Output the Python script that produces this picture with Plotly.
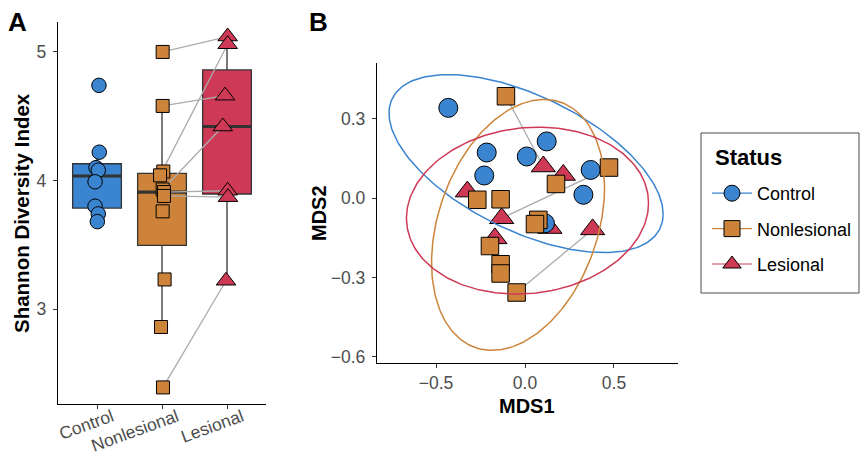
import numpy as np
import plotly.graph_objects as go

# ---------------- data ----------------
groups = ["Control", "Nonlesional", "Lesional"]
group_colors = ["#3A84D0", "#CD843A", "#CE3A55"]
group_symbols = ["circle", "square", "triangle-up"]

# Panel A: Shannon diversity index
shannon_control = [4.74, 4.22, 4.10, 4.08, 3.99, 3.80, 3.74, 3.68]
shannon_nonlesional = [5.00, 4.58, 4.07, 4.04, 3.93, 3.91, 3.88, 3.76, 3.23, 2.86, 2.39]
shannon_lesional = [5.12, 5.06, 4.66, 4.42, 3.92, 3.87, 3.22]
jitter_control = [0.03, 0.035, -0.015, 0.02, -0.03, -0.03, 0.02, 0.005]
jitter_nonlesional = [0.01, 0.01, 0.02, -0.03, 0.01, 0.03, 0.03, 0.01, 0.04, -0.015, 0.015]
jitter_lesional = [0.01, 0.01, -0.03, -0.065, 0.01, 0.015, -0.015]
# paired samples (index into nonlesional, index into lesional)
pairs_a_nl = [0, 1, 3, 4, 5, 6, 10]
pairs_a_les = [0, 2, 1, 3, 4, 5, 6]

# Panel B: MDS ordination
mds1_control = [-0.431, -0.215, -0.229, 0.010, 0.122, 0.369, 0.328, 0.112]
mds2_control = [0.342, 0.173, 0.086, 0.158, 0.215, 0.107, 0.013, -0.095]
mds1_nonlesional = [-0.107, 0.472, 0.174, -0.268, -0.137, 0.075, 0.056, -0.197, -0.137, -0.137, -0.047]
mds2_nonlesional = [0.386, 0.116, 0.054, -0.006, -0.004, -0.082, -0.098, -0.181, -0.250, -0.285, -0.357]
mds1_lesional = [0.103, 0.215, -0.324, -0.131, -0.169, 0.140, 0.380]
mds2_lesional = [0.120, 0.088, 0.025, -0.076, -0.152, -0.113, -0.118]
pairs_b_nl = [0, 1, 10]
pairs_b_les = [0, 3, 6]

# 95% ellipse parameters per group: centre x, centre y, half-extent x, half-extent y, correlation
ellipse_control = [0.006, 0.131, 0.770, 0.337, -0.567]
ellipse_nonlesional = [-0.039, -0.101, 0.486, 0.475, 0.30]
ellipse_lesional = [0.014, -0.047, 0.680, 0.316, 0.09]

# ---------------- figure ----------------
FONT = "Liberation Sans, Arial, Helvetica, sans-serif"
fig = go.Figure()

shannon = [shannon_control, shannon_nonlesional, shannon_lesional]
jitters = [jitter_control, jitter_nonlesional, jitter_lesional]
sizes_a = [14.5, 13, 17]

# boxes
for i, (vals, col) in enumerate(zip(shannon, group_colors)):
    v = np.array(vals)
    q1, med, q3 = np.percentile(v, [25, 50, 75])
    iqr = q3 - q1
    lf = v[v >= q1 - 1.5 * iqr].min()
    uf = v[v <= q3 + 1.5 * iqr].max()
    pos = i + 1
    fig.add_trace(go.Box(x=[pos], q1=[q1], median=[med], q3=[q3], lowerfence=[lf], upperfence=[uf],
                         width=0.75, whiskerwidth=0, fillcolor=col, line=dict(color="#333333", width=1.3),
                         boxpoints=False, showlegend=False, hoverinfo="skip",
                         xaxis="x", yaxis="y"))
    fig.add_trace(go.Scatter(x=[pos - 0.375, pos + 0.375], y=[med, med], mode="lines",
                             line=dict(color="#333333", width=3.2), showlegend=False,
                             hoverinfo="skip", xaxis="x", yaxis="y"))

# pair lines panel A
lx, ly = [], []
for a, b in zip(pairs_a_nl, pairs_a_les):
    lx += [2 + jitter_nonlesional[a], 3 + jitter_lesional[b], None]
    ly += [shannon_nonlesional[a], shannon_lesional[b], None]
fig.add_trace(go.Scatter(x=lx, y=ly, mode="lines", line=dict(color="#ABABAB", width=1.3),
                         showlegend=False, hoverinfo="skip", xaxis="x", yaxis="y"))

# points panel A
for i in range(3):
    fig.add_trace(go.Scatter(x=[i + 1 + j for j in jitters[i]], y=shannon[i], mode="markers",
                             marker=dict(symbol=group_symbols[i], size=sizes_a[i], color=group_colors[i],
                                         line=dict(color="black", width=1)),
                             showlegend=False, xaxis="x", yaxis="y"))

# pair lines panel B
bx, by = [], []
for a, b in zip(pairs_b_nl, pairs_b_les):
    bx += [mds1_nonlesional[a], mds1_lesional[b], None]
    by += [mds2_nonlesional[a], mds2_lesional[b], None]
fig.add_trace(go.Scatter(x=bx, y=by, mode="lines", line=dict(color="#ABABAB", width=1.3),
                         showlegend=False, hoverinfo="skip", xaxis="x2", yaxis="y2"))

mds1 = [mds1_control, mds1_nonlesional, mds1_lesional]
mds2 = [mds2_control, mds2_nonlesional, mds2_lesional]
sizes_b = [19, 17.5, 21]
for i in [2, 0, 1]:
    fig.add_trace(go.Scatter(x=mds1[i], y=mds2[i], mode="markers",
                             marker=dict(symbol=group_symbols[i], size=sizes_b[i], color=group_colors[i],
                                         line=dict(color="black", width=1)),
                             showlegend=False, xaxis="x2", yaxis="y2"))

# ellipses
t = np.linspace(0, 2 * np.pi, 240)
for par, col in zip([ellipse_control, ellipse_nonlesional, ellipse_lesional], group_colors):
    cx, cy, sx, sy, rho = par
    ex = cx + sx * np.cos(t)
    ey = cy + sy * (rho * np.cos(t) + np.sqrt(1 - rho ** 2) * np.sin(t))
    fig.add_trace(go.Scatter(x=ex, y=ey, mode="lines", line=dict(color=col, width=1.5),
                             showlegend=False, hoverinfo="skip", xaxis="x2", yaxis="y2"))

# legend entries
for i, g in enumerate(groups):
    fig.add_trace(go.Scatter(x=[None], y=[None], mode="lines+markers", name=g, legendgroup=g,
                             line=dict(color=group_colors[i], width=1.2),
                             marker=dict(symbol=group_symbols[i], size=16, color=group_colors[i],
                                         line=dict(color="black", width=1)),
                             xaxis="x2", yaxis="y2"))

W, H = 860, 455
def px_x(p): return p / W
def px_y(p): return (H - p) / H

axis_common = dict(showline=True, linecolor="black", linewidth=1.3, ticks="outside", ticklen=4,
                   tickwidth=1, tickcolor="#333333", showgrid=False, zeroline=False, automargin=False,
                   tickfont=dict(family=FONT, size=17.5, color="#4D4D4D"), fixedrange=True)

fig.update_layout(
    template="none",
    width=W, height=H, margin=dict(l=0, r=0, t=0, b=0, autoexpand=False),
    paper_bgcolor="white", plot_bgcolor="white",
    font=dict(family=FONT, color="black"),
    xaxis=dict(domain=[px_x(58), px_x(266)], range=[0.4, 3.6], tickvals=[1, 2, 3], ticktext=groups,
               tickangle=-20, ticklabelshift=15, ticklabelstandoff=-9, anchor="y", **axis_common),
    yaxis=dict(domain=[px_y(404), px_y(22)], range=[2.261, 5.233], tickvals=[3, 4, 5], anchor="x",
               ticklabelstandoff=3, **axis_common),
    xaxis2=dict(domain=[px_x(377), px_x(678)], range=[-0.8315, 0.8596], tickvals=[-0.5, 0, 0.5],
                tickformat=".1f", anchor="y2", **axis_common),
    yaxis2=dict(domain=[px_y(363.3), px_y(62.7)], range=[-0.625, 0.513], tickvals=[-0.6, -0.3, 0, 0.3],
                tickformat=".1f", anchor="x2", ticklabelstandoff=3, **axis_common),
    legend=dict(x=px_x(707), y=px_y(175), xanchor="left", yanchor="top",
                borderwidth=0, bgcolor="rgba(0,0,0,0)",
                font=dict(family=FONT, size=18, color="black"),
                itemwidth=40, tracegroupgap=9),
    shapes=[dict(type="rect", xref="paper", yref="paper", x0=px_x(701), x1=px_x(859),
                 y0=px_y(293), y1=px_y(133), line=dict(color="#4D4D4D", width=1), layer="below")],
    annotations=[
        dict(text="<b>A</b>", x=px_x(17.5), y=px_y(22), xref="paper", yref="paper", showarrow=False,
             font=dict(family=FONT, size=26), xanchor="center", yanchor="middle"),
        dict(text="<b>B</b>", x=px_x(318), y=px_y(22), xref="paper", yref="paper", showarrow=False,
             font=dict(family=FONT, size=26), xanchor="center", yanchor="middle"),
        dict(text="<b>Shannon Diversity Index</b>", x=px_x(21), y=px_y(213), xref="paper", yref="paper",
             showarrow=False, textangle=-90, font=dict(family=FONT, size=20.5),
             xanchor="center", yanchor="middle"),
        dict(text="<b>MDS2</b>", x=px_x(319), y=px_y(213), xref="paper", yref="paper",
             showarrow=False, textangle=-90, font=dict(family=FONT, size=20),
             xanchor="center", yanchor="middle"),
        dict(text="<b>MDS1</b>", x=px_x(527), y=px_y(405.5), xref="paper", yref="paper",
             showarrow=False, font=dict(family=FONT, size=20), xanchor="center", yanchor="middle"),
        dict(text="<b>Status</b>", x=px_x(713), y=px_y(157), xref="paper", yref="paper",
             showarrow=False, font=dict(family=FONT, size=22), xanchor="left", yanchor="middle"),
    ],
)

fig.write_html("out.html", config={"displayModeBar": False},
               post_script="document.body.style.margin='0px';document.body.style.padding='0px';")
